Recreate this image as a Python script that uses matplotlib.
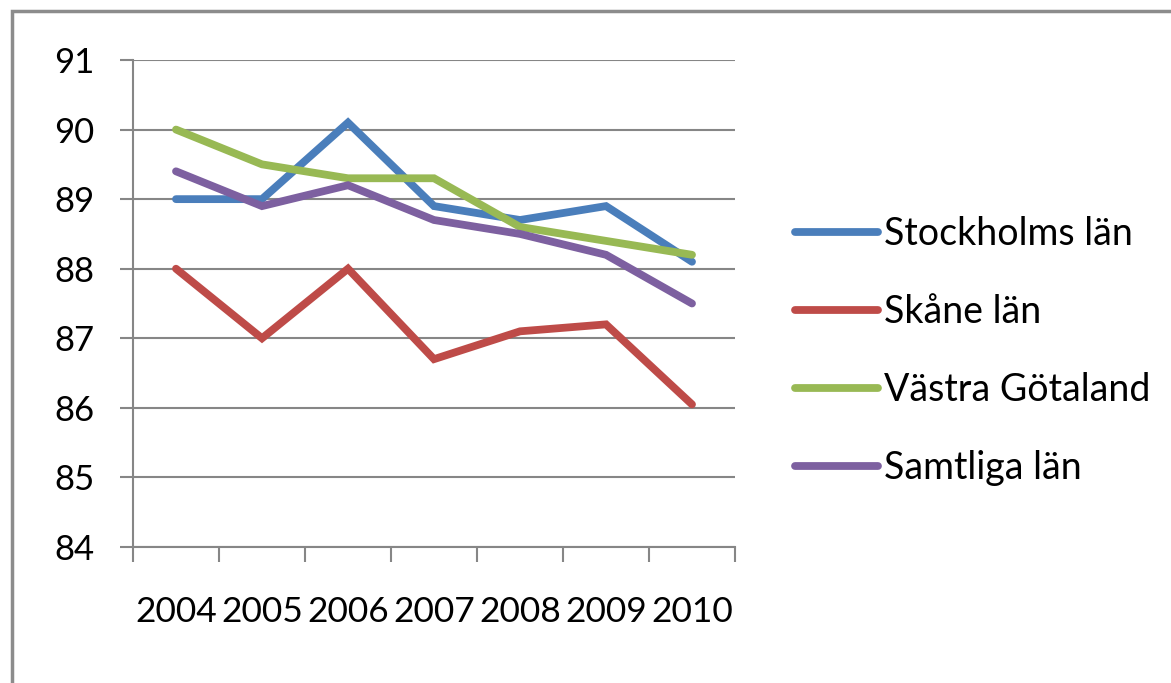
import matplotlib
matplotlib.use('Agg')
import matplotlib.pyplot as plt
from matplotlib.patches import Rectangle

years = ['2004', '2005', '2006', '2007', '2008', '2009', '2010']
stockholm = [89.0, 89.0, 90.1, 88.9, 88.7, 88.9, 88.1]
skane = [88.0, 87.0, 88.0, 86.7, 87.1, 87.2, 86.05]
vastra = [90.0, 89.5, 89.3, 89.3, 88.6, 88.4, 88.2]
samtliga = [89.4, 88.9, 89.2, 88.7, 88.5, 88.2, 87.5]

series = [
    ('Stockholms län', stockholm, '#4A7EBB'),
    ('Skåne län', skane, '#BE4B48'),
    ('Västra Götaland', vastra, '#98B954'),
    ('Samtliga län', samtliga, '#7D60A0'),
]

plt.rcParams['font.family'] = ['Lato', 'DejaVu Sans']

fig = plt.figure(figsize=(11.71, 6.83), dpi=100)
ax = fig.add_axes([133 / 1171, 1 - 547 / 683, (735 - 133) / 1171, (547 - 60) / 683])

x = list(range(len(years)))
for name, vals, col in series:
    ax.plot(x, vals, color=col, lw=5.6, label=name, solid_capstyle='round', solid_joinstyle='miter')

ax.set_xlim(-0.5, len(years) - 0.5)
ax.set_ylim(84, 91)
ax.set_yticks(range(84, 92))
ax.set_xticks(x)
ax.set_xticklabels(years)
ax.set_xticks([i - 0.5 for i in range(len(years) + 1)], minor=True)

grey = '#868686'
ax.grid(axis='y', color=grey, lw=1.5)
ax.set_axisbelow(True)
for s in ['top', 'right']:
    ax.spines[s].set_visible(False)
for s in ['left', 'bottom']:
    ax.spines[s].set_color(grey)
    ax.spines[s].set_linewidth(1.5)

ax.tick_params(axis='y', which='major', length=9.5, width=1.5, color=grey, pad=18, labelsize=25)
ax.tick_params(axis='x', which='major', length=0, pad=35, labelsize=25.5)
ax.tick_params(axis='x', which='minor', length=11, width=1.5, color=grey)

leg = ax.legend(loc='center left', bbox_to_anchor=(795 / 1171, 1 - 351 / 683),
                bbox_transform=fig.transFigure, frameon=False, fontsize=27,
                handlelength=2.2, handletextpad=0.16, labelspacing=1.12,
                borderpad=0, borderaxespad=0)
for ln in leg.get_lines():
    ln.set_linewidth(5.6)

# outer frame
fig.patches.append(Rectangle((12 / 1171, -0.1), 1.2, 1.1 - 11 / 683,
                             transform=fig.transFigure, fill=False,
                             edgecolor='#8c8c8c', lw=2.5))

fig.savefig('out.png', dpi=100)
